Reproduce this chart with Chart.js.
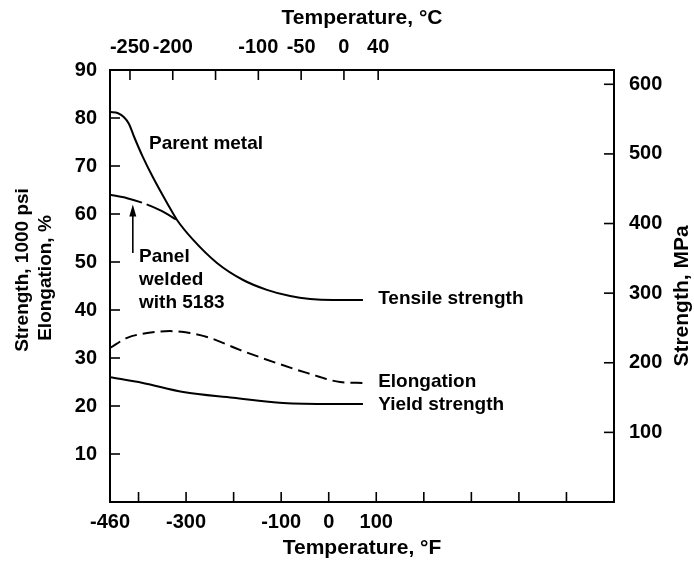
<!DOCTYPE html>
<html><head><meta charset="utf-8">
<script src="https://cdn.jsdelivr.net/npm/chart.js@4"></script>
<style>html,body{margin:0;padding:0;background:#fff;}#wrap{width:694px;height:567px;}</style>
</head><body><div id="wrap"><canvas id="c" width="694" height="567"></canvas></div>
<script>
// ---- data (temperature in °F, strength in 1000 psi, elongation in %) ----
const tempF_tensile = [-460,-443,-431,-420,-410,-391,-370,-340,-319,-285,-235,-180,-130,-81,-39,9,72];
const tensileStrength = [81.25,81.0,80.2,78.75,76.25,71.9,67.7,62.3,58.75,54.6,49.8,46.25,44.2,42.9,42.3,42.1,42.1];
const tempF_welded = [-460,-424,-391,-355,-319];
const weldedStrength = [64.0,63.3,62.3,60.8,58.75];
const tempF_elong = [-460,-424,-382,-334,-292,-250,-187,-117,-46,24,72];
const elongation = [32.1,34.2,35.2,35.6,35.2,34.2,31.7,29.2,26.9,25.0,24.8];
const tempF_yield = [-460,-391,-306,-201,-96,9,72];
const yieldStrength = [26.0,24.8,22.9,21.7,20.6,20.4,20.4];

// ---- ticks ----
const fTicks = [-460,-400,-300,-200,-100,0,100,200,300,400,500];
const fLabels = [-460,-300,-100,0,100];
const cTicks = [-250,-200,-150,-100,-50,0,40];
const cLabels = [-250,-200,-100,-50,0,40];
const ksiTicks = [0,10,20,30,40,50,60,70,80,90];
const mpaTicks = [100,200,300,400,500,600];

const F_MIN = -460, F_MAX = 600, KSI_MAX = 90, MPA_PER_KSI = 6.8948;

const FONT = '"Liberation Sans", Arial, Helvetica, sans-serif';
const tickFont = {family: FONT, size: 20, weight: 'bold'};

function pts(xs, ys){ return xs.map((x,i)=>({x:x, y:ys[i]})); }

const notes = [
  {text:'Parent metal', F:-378, v:74.6},
  {text:'Panel', F:-399, v:51.0},
  {text:'welded', F:-399, v:46.2},
  {text:'with 5183', F:-399, v:41.6},
  {text:'Tensile strength', F:104, v:42.3},
  {text:'Elongation', F:104, v:25.0},
  {text:'Yield strength', F:104, v:20.2}
];
const arrow = {F:-412, from:51.9, to:62.0};

const decor = {
  id:'decor',
  afterDraw(chart){
    const {ctx, chartArea:a, scales:s} = chart;
    ctx.save();
    ctx.strokeStyle = '#000'; ctx.fillStyle = '#000'; ctx.lineWidth = 1.6;
    const L = 10;
    const seg = (x1,y1,x2,y2)=>{ctx.beginPath();ctx.moveTo(x1,y1);ctx.lineTo(x2,y2);ctx.stroke();};
    fTicks.filter(v=>v>F_MIN).forEach(v=>{const x=s.x.getPixelForValue(v); seg(x,a.bottom,x,a.bottom-L);});
    cTicks.forEach(v=>{const x=s.x2.getPixelForValue(v); seg(x,a.top,x,a.top+L);});
    ksiTicks.filter(v=>v>0 && v<KSI_MAX).forEach(v=>{const y=s.y.getPixelForValue(v); seg(a.left,y,a.left+L,y);});
    mpaTicks.forEach(v=>{const y=s.y2.getPixelForValue(v); seg(a.right,y,a.right-L,y);});

    // arrow
    const ax = s.x.getPixelForValue(arrow.F);
    const y1 = s.y.getPixelForValue(arrow.from), y2 = s.y.getPixelForValue(arrow.to);
    seg(ax,y1,ax,y2+8);
    ctx.beginPath(); ctx.moveTo(ax,y2); ctx.lineTo(ax-3.5,y2+12); ctx.lineTo(ax+3.5,y2+12); ctx.closePath(); ctx.fill();

    // annotations
    ctx.font = 'bold 19px ' + FONT;
    ctx.textAlign = 'left'; ctx.textBaseline = 'middle';
    notes.forEach(n=>ctx.fillText(n.text, s.x.getPixelForValue(n.F), s.y.getPixelForValue(n.v)));

    // y-axis titles (rotated, reading bottom to top)
    const vtext = (t,x,y,size)=>{ctx.save();ctx.translate(x,y);ctx.rotate(-Math.PI/2);ctx.font='bold '+size+'px '+FONT;ctx.textAlign='center';ctx.textBaseline='middle';ctx.fillText(t,0,0);ctx.restore();};
    vtext('Strength, 1000 psi', 23, 270, 19);
    vtext('Elongation, %', 46, 278, 19);
    vtext('Strength, MPa', 682, 296, 21);
    ctx.restore();
  }
};

const line = {borderColor:'#000', borderWidth:2, pointRadius:0, showLine:true, fill:false, cubicInterpolationMode:'monotone'};

new Chart(document.getElementById('c'), {
  type:'scatter',
  data:{datasets:[
    Object.assign({label:'Tensile strength', data:pts(tempF_tensile, tensileStrength)}, line),
    Object.assign({label:'Panel welded with 5183', data:pts(tempF_welded, weldedStrength), borderDash:[33,5]}, line),
    Object.assign({label:'Elongation', data:pts(tempF_elong, elongation), borderDash:[12,6]}, line),
    Object.assign({label:'Yield strength', data:pts(tempF_yield, yieldStrength)}, line)
  ]},
  options:{
    responsive:false, animation:false, devicePixelRatio:1,
    layout:{padding:0},
    plugins:{legend:{display:false}, tooltip:{enabled:false}},
    scales:{
      x:{type:'linear', position:'bottom', min:F_MIN, max:F_MAX,
        afterBuildTicks:sc=>{sc.ticks = fTicks.map(v=>({value:v}));},
        afterFit:sc=>{sc.height = 65;},
        ticks:{autoSkip:false, maxRotation:0, minRotation:0, padding:8, color:'#000', font:tickFont,
          callback:v=>fLabels.includes(v)?String(v):''},
        grid:{display:false, drawTicks:false},
        border:{display:true, color:'#000', width:2},
        title:{display:true, text:'Temperature, °F', color:'#000', font:{family:FONT,size:21,weight:'bold'}, padding:{top:0,bottom:6}}
      },
      x2:{type:'linear', position:'top', min:(F_MIN-32)/1.8, max:(F_MAX-32)/1.8,
        afterBuildTicks:sc=>{sc.ticks = cTicks.map(v=>({value:v}));},
        afterFit:sc=>{sc.height = 70;},
        ticks:{autoSkip:false, maxRotation:0, minRotation:0, padding:11, color:'#000', font:tickFont,
          callback:v=>cLabels.includes(v)?String(v):''},
        grid:{display:false, drawTicks:false},
        border:{display:true, color:'#000', width:2},
        title:{display:true, text:'Temperature, °C', color:'#000', font:{family:FONT,size:21,weight:'bold'}, padding:{top:6,bottom:0}}
      },
      y:{type:'linear', position:'left', min:0, max:KSI_MAX,
        afterBuildTicks:sc=>{sc.ticks = ksiTicks.map(v=>({value:v}));},
        afterFit:sc=>{sc.width = 110;},
        ticks:{autoSkip:false, padding:13, color:'#000', font:tickFont, callback:v=>v===0?'':String(v)},
        grid:{display:false, drawTicks:false},
        border:{display:true, color:'#000', width:2}
      },
      y2:{type:'linear', position:'right', min:0, max:KSI_MAX*MPA_PER_KSI,
        afterBuildTicks:sc=>{sc.ticks = mpaTicks.map(v=>({value:v}));},
        afterFit:sc=>{sc.width = 80;},
        ticks:{autoSkip:false, padding:15, color:'#000', font:tickFont, callback:v=>String(v)},
        grid:{display:false, drawTicks:false},
        border:{display:true, color:'#000', width:2}
      }
    }
  },
  plugins:[decor]
});
</script>
</body></html>
